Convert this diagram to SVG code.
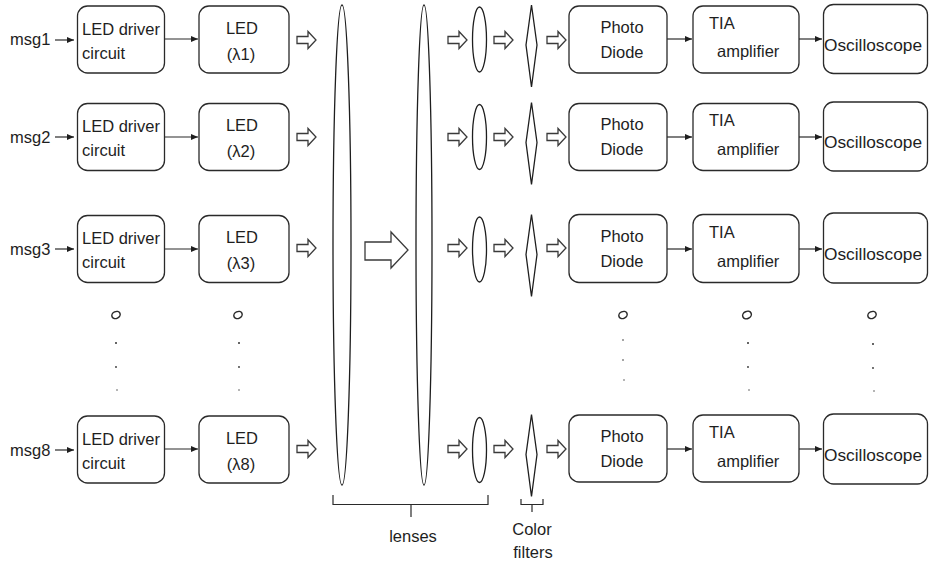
<svg xmlns="http://www.w3.org/2000/svg" xmlns:xlink="http://www.w3.org/1999/xlink" width="929" height="564" viewBox="0 0 929 564">
<style>
.box{fill:#fff;stroke:#2a2a2a;stroke-width:1.3}
.ln{fill:none;stroke:#2a2a2a;stroke-width:1.2}
.lens{fill:#fff;stroke:#1e1e1e;stroke-width:1.3}
.ha{fill:#fff;stroke:#3a3a3a;stroke-width:1.3;stroke-linejoin:miter}
.t{font-family:"Liberation Sans",Arial,sans-serif;font-size:16.5px;fill:#1e1e1e}
.c{text-anchor:middle}
.o{fill:none;stroke:#2a2a2a;stroke-width:1.5}
.d{fill:#333}
</style>
<defs>
<marker id="ah" markerWidth="8" markerHeight="8" refX="7" refY="4" orient="auto" markerUnits="userSpaceOnUse">
<path d="M0,1 L7,4 L0,7 Z" fill="#1e1e1e"/>
</marker>
<path id="harrow" d="M0,-3.5 H11 V-8.5 L19,0 L11,8.5 V3.5 H0 Z" class="ha"/>
<path id="diam" d="M0,0 L5.5,40 L0,82 L-5.5,40 Z" class="lens"/>
</defs>
<rect width="929" height="564" fill="#fff"/>

<!-- big lenses -->
<g id="lens1"><ellipse class="lens" cx="342" cy="245" rx="9" ry="240"/></g>
<g id="lens2"><ellipse class="lens" cx="424" cy="245" rx="8" ry="240"/></g>
<g id="bigarrow"><path class="ha" d="M365,242 H391 V232 L408,250 L391,268 V260 H365 Z"/></g>

<!-- rows -->
<g id="row1">
<text class="t" x="10" y="45">msg1</text>
<g id="driver1"><rect class="box" x="77.5" y="6" width="87" height="67" rx="10"/><text class="t" x="82" y="35">LED driver</text><text class="t" x="82" y="59">circuit</text></g>
<g id="led1"><rect class="box" x="199" y="6" width="90" height="67" rx="10"/><text class="t c" x="242" y="34">LED</text><text class="t c" x="241" y="60">(λ1)</text></g>
<g id="lensS1"><ellipse class="lens" cx="479.5" cy="39.5" rx="7" ry="32.5"/></g>
<g id="filter1"><use xlink:href="#diam" x="531.5" y="5"/></g>
<g id="pd1"><rect class="box" x="569" y="6" width="98" height="67" rx="10"/><text class="t c" x="622" y="33">Photo</text><text class="t c" x="622" y="58">Diode</text></g>
<g id="tia1"><rect class="box" x="693" y="6" width="106" height="67" rx="10"/><text class="t" x="709" y="29">TIA</text><text class="t" x="717" y="57">amplifier</text></g>
<g id="osc1"><rect class="box" x="823.5" y="4.5" width="104" height="69" rx="10"/><text class="t" x="824" y="51" textLength="98" lengthAdjust="spacingAndGlyphs">Oscilloscope</text></g>
</g>

<g id="row2">
<text class="t" x="10" y="143">msg2</text>
<g id="driver2"><rect class="box" x="77.5" y="103.5" width="87" height="67" rx="10"/><text class="t" x="82" y="132">LED driver</text><text class="t" x="82" y="156">circuit</text></g>
<g id="led2"><rect class="box" x="199" y="103.5" width="90" height="67" rx="10"/><text class="t c" x="242" y="131">LED</text><text class="t c" x="241" y="157">(λ2)</text></g>
<g id="lensS2"><ellipse class="lens" cx="479.5" cy="137" rx="7" ry="32.5"/></g>
<g id="filter2"><use xlink:href="#diam" x="531.5" y="102.5"/></g>
<g id="pd2"><rect class="box" x="569" y="103.5" width="98" height="67" rx="10"/><text class="t c" x="622" y="130">Photo</text><text class="t c" x="622" y="155">Diode</text></g>
<g id="tia2"><rect class="box" x="693" y="103.5" width="106" height="67" rx="10"/><text class="t" x="709" y="126">TIA</text><text class="t" x="717" y="155">amplifier</text></g>
<g id="osc2"><rect class="box" x="823.5" y="102" width="104" height="69" rx="10"/><text class="t" x="824" y="148" textLength="98" lengthAdjust="spacingAndGlyphs">Oscilloscope</text></g>
</g>

<g id="row3">
<text class="t" x="10" y="255">msg3</text>
<g id="driver3"><rect class="box" x="77.5" y="215.5" width="87" height="67" rx="10"/><text class="t" x="82" y="244">LED driver</text><text class="t" x="82" y="268">circuit</text></g>
<g id="led3"><rect class="box" x="199" y="215.5" width="90" height="67" rx="10"/><text class="t c" x="242" y="243">LED</text><text class="t c" x="241" y="269">(λ3)</text></g>
<g id="lensS3"><ellipse class="lens" cx="479.5" cy="249.5" rx="7" ry="32.5"/></g>
<g id="filter3"><use xlink:href="#diam" x="531.5" y="214.5"/></g>
<g id="pd3"><rect class="box" x="569" y="214.5" width="98" height="68" rx="10"/><text class="t c" x="622" y="242">Photo</text><text class="t c" x="622" y="267">Diode</text></g>
<g id="tia3"><rect class="box" x="693" y="214.5" width="106" height="68" rx="10"/><text class="t" x="709" y="238">TIA</text><text class="t" x="717" y="267">amplifier</text></g>
<g id="osc3"><rect class="box" x="823.5" y="213" width="104" height="70" rx="10"/><text class="t" x="824" y="260" textLength="98" lengthAdjust="spacingAndGlyphs">Oscilloscope</text></g>
</g>

<g id="row8">
<text class="t" x="10" y="456">msg8</text>
<g id="driver8"><rect class="box" x="77.5" y="416" width="87" height="67" rx="10"/><text class="t" x="82" y="445">LED driver</text><text class="t" x="82" y="469">circuit</text></g>
<g id="led8"><rect class="box" x="199" y="416" width="90" height="67" rx="10"/><text class="t c" x="242" y="444">LED</text><text class="t c" x="241" y="470">(λ8)</text></g>
<g id="lensS8"><ellipse class="lens" cx="479.5" cy="450" rx="7" ry="32.5"/></g>
<g id="filter8"><use xlink:href="#diam" x="531.5" y="414.5"/></g>
<g id="pd8"><rect class="box" x="569" y="415" width="98" height="67" rx="10"/><text class="t c" x="622" y="442">Photo</text><text class="t c" x="622" y="467">Diode</text></g>
<g id="tia8"><rect class="box" x="693" y="415" width="106" height="67" rx="10"/><text class="t" x="709" y="438">TIA</text><text class="t" x="717" y="467">amplifier</text></g>
<g id="osc8"><rect class="box" x="823.5" y="414" width="104" height="70" rx="10"/><text class="t" x="824" y="461" textLength="98" lengthAdjust="spacingAndGlyphs">Oscilloscope</text></g>
</g>

<!-- ellipsis marks -->
<g id="ellipsis">
<ellipse class="o" cx="116" cy="315" rx="4.3" ry="3.4" transform="rotate(-25 116 315)"/>
<circle class="d" cx="116" cy="343" r="1"/><circle class="d" cx="116" cy="367" r="0.9"/><circle class="d" cx="117" cy="390" r="0.7"/>
<ellipse class="o" cx="238" cy="315" rx="4.3" ry="3.4" transform="rotate(-25 238 315)"/>
<circle class="d" cx="239" cy="343" r="1"/><circle class="d" cx="239" cy="367" r="0.9"/><circle class="d" cx="239" cy="390" r="0.7"/>
<ellipse class="o" cx="623" cy="315" rx="4.3" ry="3.4" transform="rotate(-25 623 315)"/>
<circle class="d" cx="623" cy="340" r="0.8"/><circle class="d" cx="623" cy="360" r="0.8"/><circle class="d" cx="624" cy="380" r="0.7"/>
<ellipse class="o" cx="747" cy="315" rx="4.5" ry="3.6" transform="rotate(-25 747 315)"/>
<circle class="d" cx="748" cy="343" r="1"/><circle class="d" cx="748" cy="367" r="0.9"/><circle class="d" cx="749" cy="390" r="0.7"/>
<ellipse class="o" cx="872" cy="315" rx="4.3" ry="3.4" transform="rotate(-25 872 315)"/>
<circle class="d" cx="873" cy="344" r="1"/><circle class="d" cx="873" cy="368" r="0.9"/><circle class="d" cx="874" cy="391" r="0.7"/>
</g>

<!-- braces and labels -->
<g id="lensesLabel">
<path class="ln" d="M333,495 V504.5 H488 V495 M411,504.5 V517"/>
<text class="t c" x="413" y="542">lenses</text>
</g>
<g id="filtersLabel">
<path class="ln" d="M521,499 V504.5 H543 V499 M532,504.5 V512"/>
<text class="t c" x="532" y="535">Color</text>
<text class="t c" x="533" y="558">filters</text>
</g>

<!-- connectors -->
<g id="connectors">
<g class="ln" marker-end="url(#ah)">
<path d="M55,40 H74"/><path d="M164.5,39 H198"/><path d="M667,39 H692"/><path d="M799,39 H822"/>
<path d="M55,137 H74"/><path d="M164.5,137 H198"/><path d="M667,137 H692"/><path d="M799,137 H822"/>
<path d="M55,249 H74"/><path d="M164.5,249 H198"/><path d="M667,249 H692"/><path d="M799,249 H822"/>
<path d="M55,450 H74"/><path d="M164.5,449 H198"/><path d="M667,449 H692"/><path d="M799,449 H822"/>
</g>
<use xlink:href="#harrow" x="297" y="40"/><use xlink:href="#harrow" x="448" y="40"/><use xlink:href="#harrow" x="494" y="40"/><use xlink:href="#harrow" x="547" y="40"/>
<use xlink:href="#harrow" x="297" y="137"/><use xlink:href="#harrow" x="448" y="137"/><use xlink:href="#harrow" x="494" y="137"/><use xlink:href="#harrow" x="547" y="137"/>
<use xlink:href="#harrow" x="297" y="248"/><use xlink:href="#harrow" x="448" y="248"/><use xlink:href="#harrow" x="494" y="248"/><use xlink:href="#harrow" x="547" y="248"/>
<use xlink:href="#harrow" x="297" y="449"/><use xlink:href="#harrow" x="448" y="449"/><use xlink:href="#harrow" x="494" y="449"/><use xlink:href="#harrow" x="547" y="449"/>
</g>
</svg>
